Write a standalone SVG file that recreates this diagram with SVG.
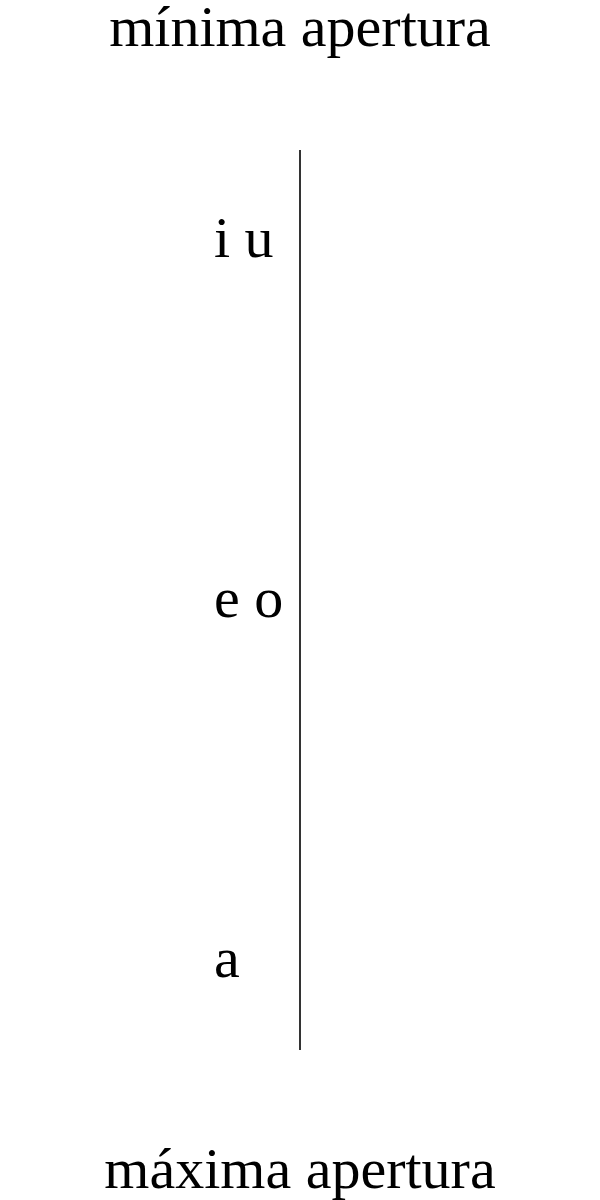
<svg xmlns="http://www.w3.org/2000/svg" width="600" height="1200" viewBox="0 0 600 1200">
<style>
text{font-family:"Liberation Serif","Times New Roman",serif;fill:#000}
.t{font-size:58px;text-anchor:middle}
.l{font-size:58px}
</style>
<rect width="600" height="1200" fill="#fff"/>
<g id="connectors"><line x1="300" y1="150" x2="300" y2="1050" stroke="#333" stroke-width="2"/></g>
<g id="top"><text class="t" x="300" y="46">mínima apertura</text></g>
<g id="iu"><text class="l" x="214" y="257">i u</text></g>
<g id="eo"><text class="l" x="214" y="617">e o</text></g>
<g id="a"><text class="l" x="214" y="977">a</text></g>
<g id="bottom"><text class="t" x="300" y="1188">máxima apertura</text></g>
</svg>
